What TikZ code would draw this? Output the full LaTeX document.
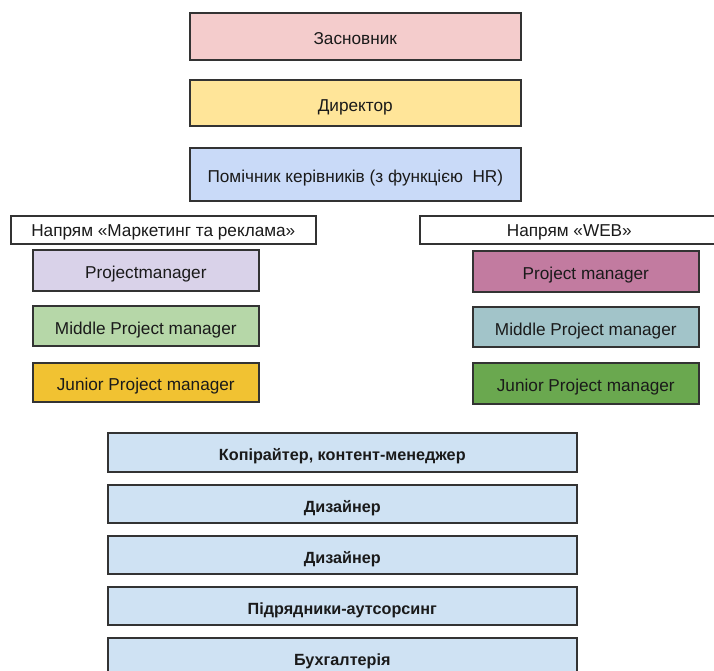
\documentclass[tikz,border=0pt]{standalone}
\usepackage{fontspec}
\setmainfont{Liberation Sans}
\definecolor{cZas}{HTML}{F4CCCC}
\definecolor{cDir}{HTML}{FFE599}
\definecolor{cPom}{HTML}{C9DAF8}
\definecolor{cLpm}{HTML}{D9D2E9}
\definecolor{cLmid}{HTML}{B6D7A8}
\definecolor{cLjun}{HTML}{F1C232}
\definecolor{cRpm}{HTML}{C27BA0}
\definecolor{cRmid}{HTML}{A2C4C9}
\definecolor{cRjun}{HTML}{6AA84F}
\definecolor{cBot}{HTML}{CFE2F3}
\definecolor{cLine}{HTML}{333333}
\definecolor{cText}{HTML}{1A1A1A}
\tikzset{
  box/.style={draw=cLine, line width=1.6pt, rectangle, inner sep=0pt, text=cText,
    text height=20pt, text depth=3pt,
    font=\fontsize{17.2}{19}\selectfont, anchor=north west},
  headbox/.style={box, fill=white, text height=17pt, text depth=3pt},
  boldbox/.style={box, font=\fontsize{16.2}{19}\selectfont\bfseries}
}
\begin{document}
\begin{tikzpicture}[x=1pt,y=-1pt]
\useasboundingbox (0,0) rectangle (714,671);
\clip (0,0) rectangle (714,671);
\node[box, fill=cZas, minimum width=331pt, minimum height=47pt] (zas) at (189,12) {Засновник};
\node[box, fill=cDir, minimum width=331pt, minimum height=46pt] (dir) at (189,79) {Директор};
\node[box, fill=cPom, minimum width=331pt, minimum height=53pt] (pom) at (189,147) {Помічник керівників (з функцією~ HR)};
\node[headbox, minimum width=305pt, minimum height=28pt] (mark) at (10,215) {Напрям «Маркетинг та реклама»};
\node[headbox, minimum width=299pt, minimum height=28pt] (web) at (419,215) {Напрям «WEB»};
\node[box, fill=cLpm, minimum width=226pt, minimum height=41pt] (lpm) at (32,249) {Projectmanager};
\node[box, fill=cLmid, minimum width=226pt, minimum height=40pt] (lmid) at (32,305) {Middle Project manager};
\node[box, fill=cLjun, minimum width=226pt, minimum height=39pt] (ljun) at (32,362) {Junior Project manager};
\node[box, fill=cRpm, minimum width=226pt, minimum height=41pt] (rpm) at (472,250) {Project manager};
\node[box, fill=cRmid, minimum width=226pt, minimum height=40pt] (rmid) at (472,306) {Middle Project manager};
\node[box, fill=cRjun, minimum width=226pt, minimum height=41pt] (rjun) at (472,362) {Junior Project manager};
\node[boldbox, fill=cBot, minimum width=469pt, minimum height=39pt] (kop) at (107,432) {Копірайтер, контент-менеджер};
\node[boldbox, fill=cBot, minimum width=469pt, minimum height=38pt] (diz1) at (107,484) {Дизайнер};
\node[boldbox, fill=cBot, minimum width=469pt, minimum height=38pt] (diz2) at (107,535) {Дизайнер};
\node[boldbox, fill=cBot, minimum width=469pt, minimum height=38pt] (pid) at (107,586) {Підрядники-аутсорсинг};
\node[boldbox, fill=cBot, minimum width=469pt, minimum height=38pt] (bux) at (107,637) {Бухгалтерія};
\end{tikzpicture}
\end{document}
